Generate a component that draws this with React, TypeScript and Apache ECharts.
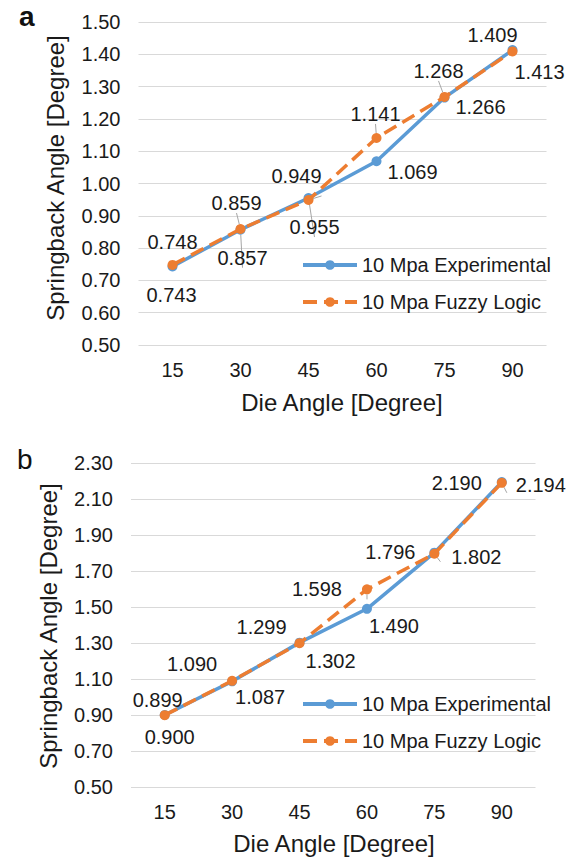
import React, { useEffect, useRef } from "react";
import * as echarts from "echarts";

const categories = ["15", "30", "45", "60", "75", "90"];
const expA = [0.743, 0.857, 0.955, 1.069, 1.266, 1.413];
const fuzzyA = [0.748, 0.859, 0.949, 1.141, 1.268, 1.409];
const expB = [0.9, 1.087, 1.302, 1.49, 1.802, 2.194];
const fuzzyB = [0.899, 1.09, 1.299, 1.598, 1.796, 2.19];
const expName = "10 Mpa Experimental";
const fuzzyName = "10 Mpa Fuzzy Logic";

// label offsets (px) relative to each marker centre
const offExpA = [[-1, 28], [2, 28], [6, 29], [36, 11], [36, 9], [27, 22]];
const offFuzzyA = [[0, -23], [-4, -26], [-12, -24], [-1, -24], [-6, -26], [-20, -16]];
const offExpB = [[5, 22], [28, 16], [31, 18], [27, 17], [42, 4], [39, 3]];
const offFuzzyB = [[-7, -15], [-40, -17], [-38, -16], [-50, 0], [-44, -2], [-45, 0]];
const guideExpA = [false, true, true, false, false, false];
const guideFuzzyA = [false, true, true, true, true, false];
const guideExpB = [false, false, false, false, false, false];
const guideFuzzyB = [false, false, false, true, true, true];

const FONT = "'Liberation Sans', Arial, sans-serif";
const TXT = "#1a1a1a";
const BLUE = "#5B9BD5";
const ORANGE = "#ED7D31";

function mk(values: number[], offs: number[][], guides: boolean[]) {
  return values.map((v, i) => ({
    value: v,
    label: {
      show: true,
      position: "inside",
      offset: offs[i],
      formatter: () => v.toFixed(3),
    },
    labelLine: {
      show: guides[i],
      lineStyle: { color: "#A6A6A6", width: 1 },
    },
  }));
}

export default function App() {
  const ref = useRef<HTMLDivElement>(null);
  useEffect(() => {
    if (!ref.current) return;
    const chart = echarts.init(ref.current, undefined, { renderer: "svg" });
    const labelStyle = { color: TXT, fontSize: 20, fontFamily: FONT };
    const xAxisBase = {
      type: "category",
      data: categories,
      boundaryGap: true,
      axisLine: { show: false },
      axisTick: { show: false },
      axisLabel: { color: TXT, fontSize: 20, fontFamily: FONT, margin: 15 },
    };
    const yAxisBase = {
      type: "value",
      axisLine: { show: false },
      axisTick: { show: false },
      splitLine: { lineStyle: { color: "#D9D9D9", width: 1 } },
      axisLabel: {
        color: TXT,
        fontSize: 20,
        fontFamily: FONT,
        margin: 18,
        formatter: (v: number) => v.toFixed(2),
      },
    };
    const expSeries = (data: any, idx: number) => ({
      type: "line",
      name: expName,
      xAxisIndex: idx,
      yAxisIndex: idx,
      data,
      symbol: "circle",
      symbolSize: 10,
      itemStyle: { color: BLUE },
      lineStyle: { color: BLUE, width: 3.5 },
      label: labelStyle,
      z: 2,
    });
    const fuzzySeries = (data: any, idx: number) => ({
      type: "line",
      name: fuzzyName,
      xAxisIndex: idx,
      yAxisIndex: idx,
      data,
      symbol: "circle",
      symbolSize: 10,
      itemStyle: { color: ORANGE },
      lineStyle: { color: ORANGE, width: 3.5, type: [14, 7] },
      label: labelStyle,
      z: 3,
    });
    const legendBase = {
      orient: "vertical",
      left: 296,
      itemWidth: 54,
      itemHeight: 12,
      itemGap: 17,
      lineStyle: { width: 4 },
      textStyle: { color: TXT, fontSize: 20, fontFamily: FONT },
      data: [expName, fuzzyName],
    };
    chart.setOption({
      animation: false,
      backgroundColor: "#ffffff",
      grid: [
        { left: 138.5, top: 22, width: 408, height: 323 },
        { left: 131, top: 463, width: 404.5, height: 324 },
      ],
      xAxis: [
        { ...xAxisBase, gridIndex: 0 },
        { ...xAxisBase, gridIndex: 1 },
      ],
      yAxis: [
        { ...yAxisBase, gridIndex: 0, min: 0.5, max: 1.5, interval: 0.1 },
        { ...yAxisBase, gridIndex: 1, min: 0.5, max: 2.3, interval: 0.2 },
      ],
      legend: [
        { ...legendBase, top: 250 },
        { ...legendBase, top: 689 },
      ],
      series: [
        expSeries(mk(expA, offExpA, guideExpA), 0),
        fuzzySeries(mk(fuzzyA, offFuzzyA, guideFuzzyA), 0),
        expSeries(mk(expB, offExpB, guideExpB), 1),
        fuzzySeries(mk(fuzzyB, offFuzzyB, guideFuzzyB), 1),
      ],
      graphic: [
        {
          type: "text",
          left: 19,
          top: 2,
          style: { text: "a", fontSize: 28, fontWeight: "bold", fontFamily: FONT, fill: "#111" },
        },
        {
          type: "text",
          left: 17,
          top: 445,
          style: { text: "b", fontSize: 28, fontFamily: FONT, fill: "#111" },
        },
        {
          type: "text",
          x: 55,
          y: 178,
          rotation: Math.PI / 2,
          style: {
            text: "Springback Angle [Degree]",
            fontSize: 24,
            fontFamily: FONT,
            fill: TXT,
            align: "center",
            verticalAlign: "middle",
          },
        },
        {
          type: "text",
          x: 48,
          y: 626,
          rotation: Math.PI / 2,
          style: {
            text: "Springback Angle [Degree]",
            fontSize: 24,
            fontFamily: FONT,
            fill: TXT,
            align: "center",
            verticalAlign: "middle",
          },
        },
        {
          type: "text",
          x: 342,
          y: 402,
          style: {
            text: "Die Angle [Degree]",
            fontSize: 24,
            fontFamily: FONT,
            fill: TXT,
            align: "center",
            verticalAlign: "middle",
          },
        },
        {
          type: "text",
          x: 334,
          y: 843,
          style: {
            text: "Die Angle [Degree]",
            fontSize: 24,
            fontFamily: FONT,
            fill: TXT,
            align: "center",
            verticalAlign: "middle",
          },
        },
      ],
    });
    return () => chart.dispose();
  }, []);
  return (
    <div
      ref={ref}
      style={{ position: "absolute", left: 0, top: 0, width: 579, height: 857, background: "#fff" }}
    />
  );
}
